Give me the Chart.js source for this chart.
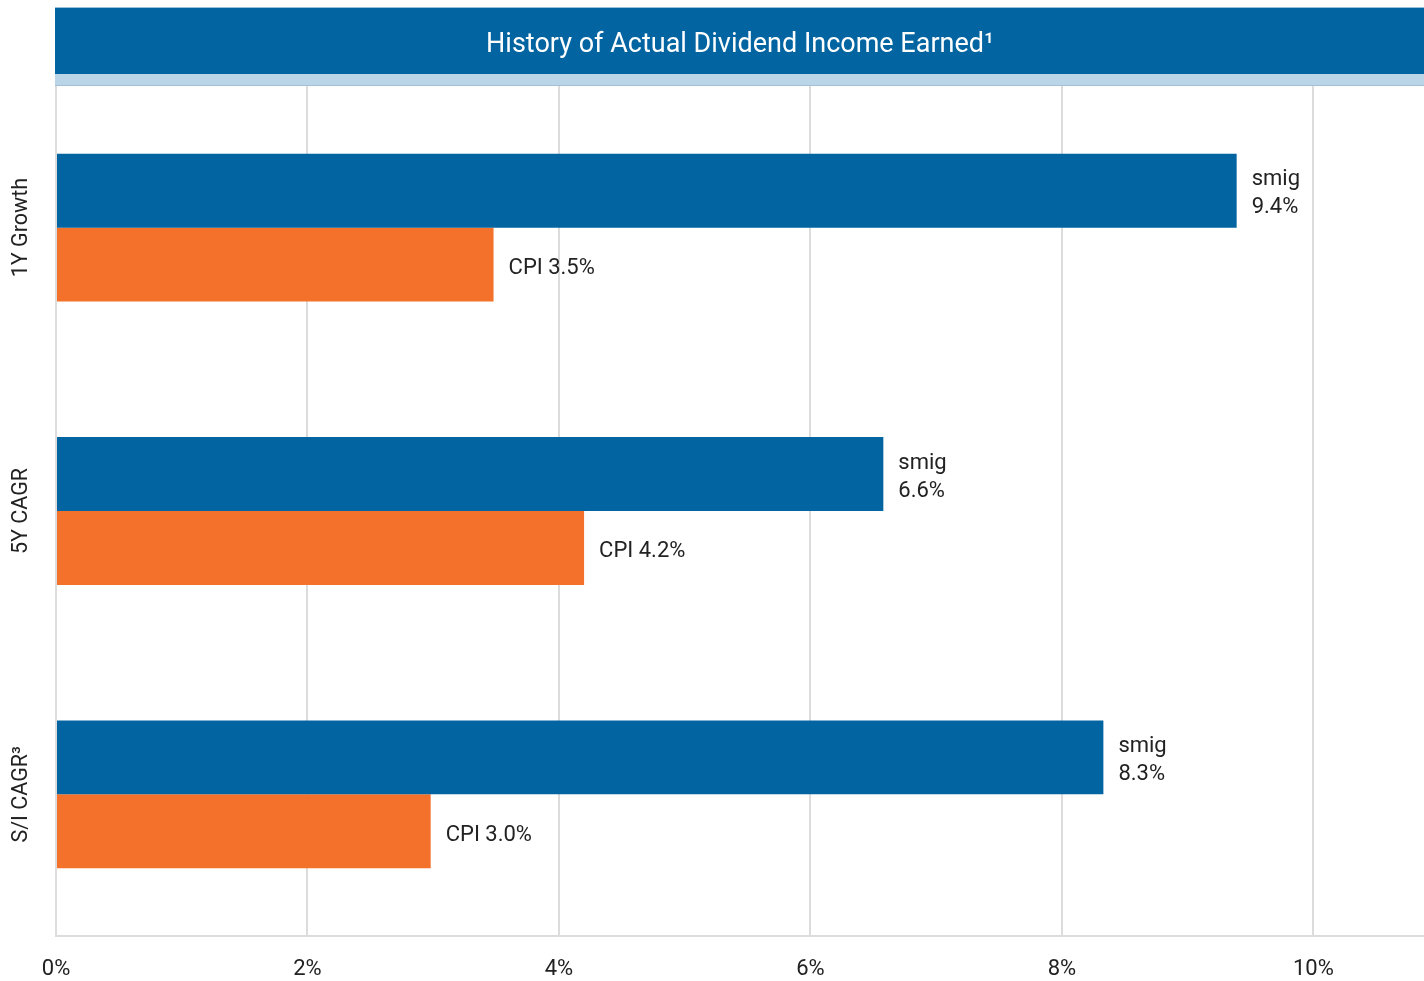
<!DOCTYPE html>
<html>
<head>
<meta charset="utf-8">
<script src="https://cdn.jsdelivr.net/npm/chart.js@4/dist/chart.umd.min.js"></script>
<style>
  html, body { margin: 0; padding: 0; background: #fff; }
  #wrap { width: 1424px; height: 981px; position: relative; }
</style>
</head>
<body>
<div id="wrap"><canvas id="c" width="1424" height="981"></canvas></div>
<script>
const titleText = 'History of Actual Dividend Income Earned\u00B9';
const categories = ['1Y Growth', '5Y CAGR', 'S/I CAGR\u00B3'];
const seriesNames = ['smig', 'CPI'];
const smigValues = [9.39, 6.58, 8.33];
const cpiValues = [3.48, 4.2, 2.98];
const xTicks = [0, 2, 4, 6, 8, 10];

const BLUE = '#0265a1';
const ORANGE = '#f3712a';
const FONT = 'Roboto, "Liberation Sans", sans-serif';
const TEXT = '#222222';

const bannerPlugin = {
  id: 'banner',
  beforeDraw(chart) {
    const ctx = chart.ctx;
    const ca = chart.chartArea;
    const left = ca.left - 1;
    const w = chart.width - left;
    ctx.save();
    ctx.fillStyle = '#9cc0da';
    ctx.fillRect(left, 7, w, 1);
    ctx.fillStyle = '#0264a0';
    ctx.fillRect(left, 8, w, 66);
    ctx.fillStyle = '#b9d5e7';
    ctx.fillRect(left, 74, w, 11);
    ctx.fillStyle = '#a6bfd0';
    ctx.fillRect(left, 85, w, 1);
    ctx.restore();
  }
};

const labelPlugin = {
  id: 'labels',
  afterDatasetsDraw(chart) {
    const ctx = chart.ctx;
    ctx.save();
    ctx.font = '22px ' + FONT;
    ctx.fillStyle = TEXT;
    ctx.textAlign = 'left';
    ctx.textBaseline = 'middle';
    chart.data.datasets.forEach((ds, di) => {
      const meta = chart.getDatasetMeta(di);
      meta.data.forEach((bar, i) => {
        const v = ds.data[i].toFixed(1) + '%';
        const x = bar.x + 15;
        if (di === 0) {
          ctx.fillText(ds.label, x, bar.y - 11);
          ctx.fillText(v, x, bar.y + 17);
        } else {
          ctx.fillText(ds.label + ' ' + v, x, bar.y + 4);
        }
      });
    });
    // category labels, rotated
    const y = chart.scales.y;
    ctx.font = '21.5px ' + FONT;
    ctx.textAlign = 'center';
    categories.forEach((c, i) => {
      const py = y.getPixelForValue(i);
      ctx.save();
      ctx.translate(22, py);
      ctx.rotate(-Math.PI / 2);
      ctx.fillText(c, 0, 0);
      ctx.restore();
    });
    ctx.restore();
  }
};

new Chart(document.getElementById('c'), {
  type: 'bar',
  data: {
    labels: categories,
    datasets: [
      { label: seriesNames[0], data: smigValues, backgroundColor: BLUE, barPercentage: 1, categoryPercentage: 0.522 },
      { label: seriesNames[1], data: cpiValues, backgroundColor: ORANGE, barPercentage: 1, categoryPercentage: 0.522 }
    ]
  },
  options: {
    indexAxis: 'y',
    responsive: false,
    animation: false,
    layout: { padding: { left: 56, right: 0, top: 0, bottom: 1 } },
    plugins: {
      legend: { display: false },
      tooltip: { enabled: false },
      title: {
        display: true,
        text: titleText,
        color: '#ffffff',
        fullSize: false,
        font: { family: FONT, size: 27, weight: 'normal', lineHeight: 1.2 },
        padding: { top: 29, bottom: 24.6 }
      }
    },
    scales: {
      x: {
        type: 'linear',
        min: 0,
        max: 10.88,
        afterBuildTicks(scale) {
          scale.ticks = xTicks.map(v => ({ value: v }));
        },
        afterFit(scale) {
          scale.height = 44;
        },
        grid: { color: '#dcdcdc', lineWidth: 2, drawTicks: false },
        border: { display: true, color: '#dcdcdc', width: 2 },
        ticks: {
          color: TEXT,
          padding: 20,
          font: { family: FONT, size: 22, lineHeight: 1.2 },
          callback: v => v + '%'
        }
      },
      y: {
        type: 'category',
        display: false,
        grid: { display: false, drawTicks: false },
        border: { display: false },
        ticks: { display: false }
      }
    }
  },
  plugins: [bannerPlugin, labelPlugin]
});
</script>
</body>
</html>
